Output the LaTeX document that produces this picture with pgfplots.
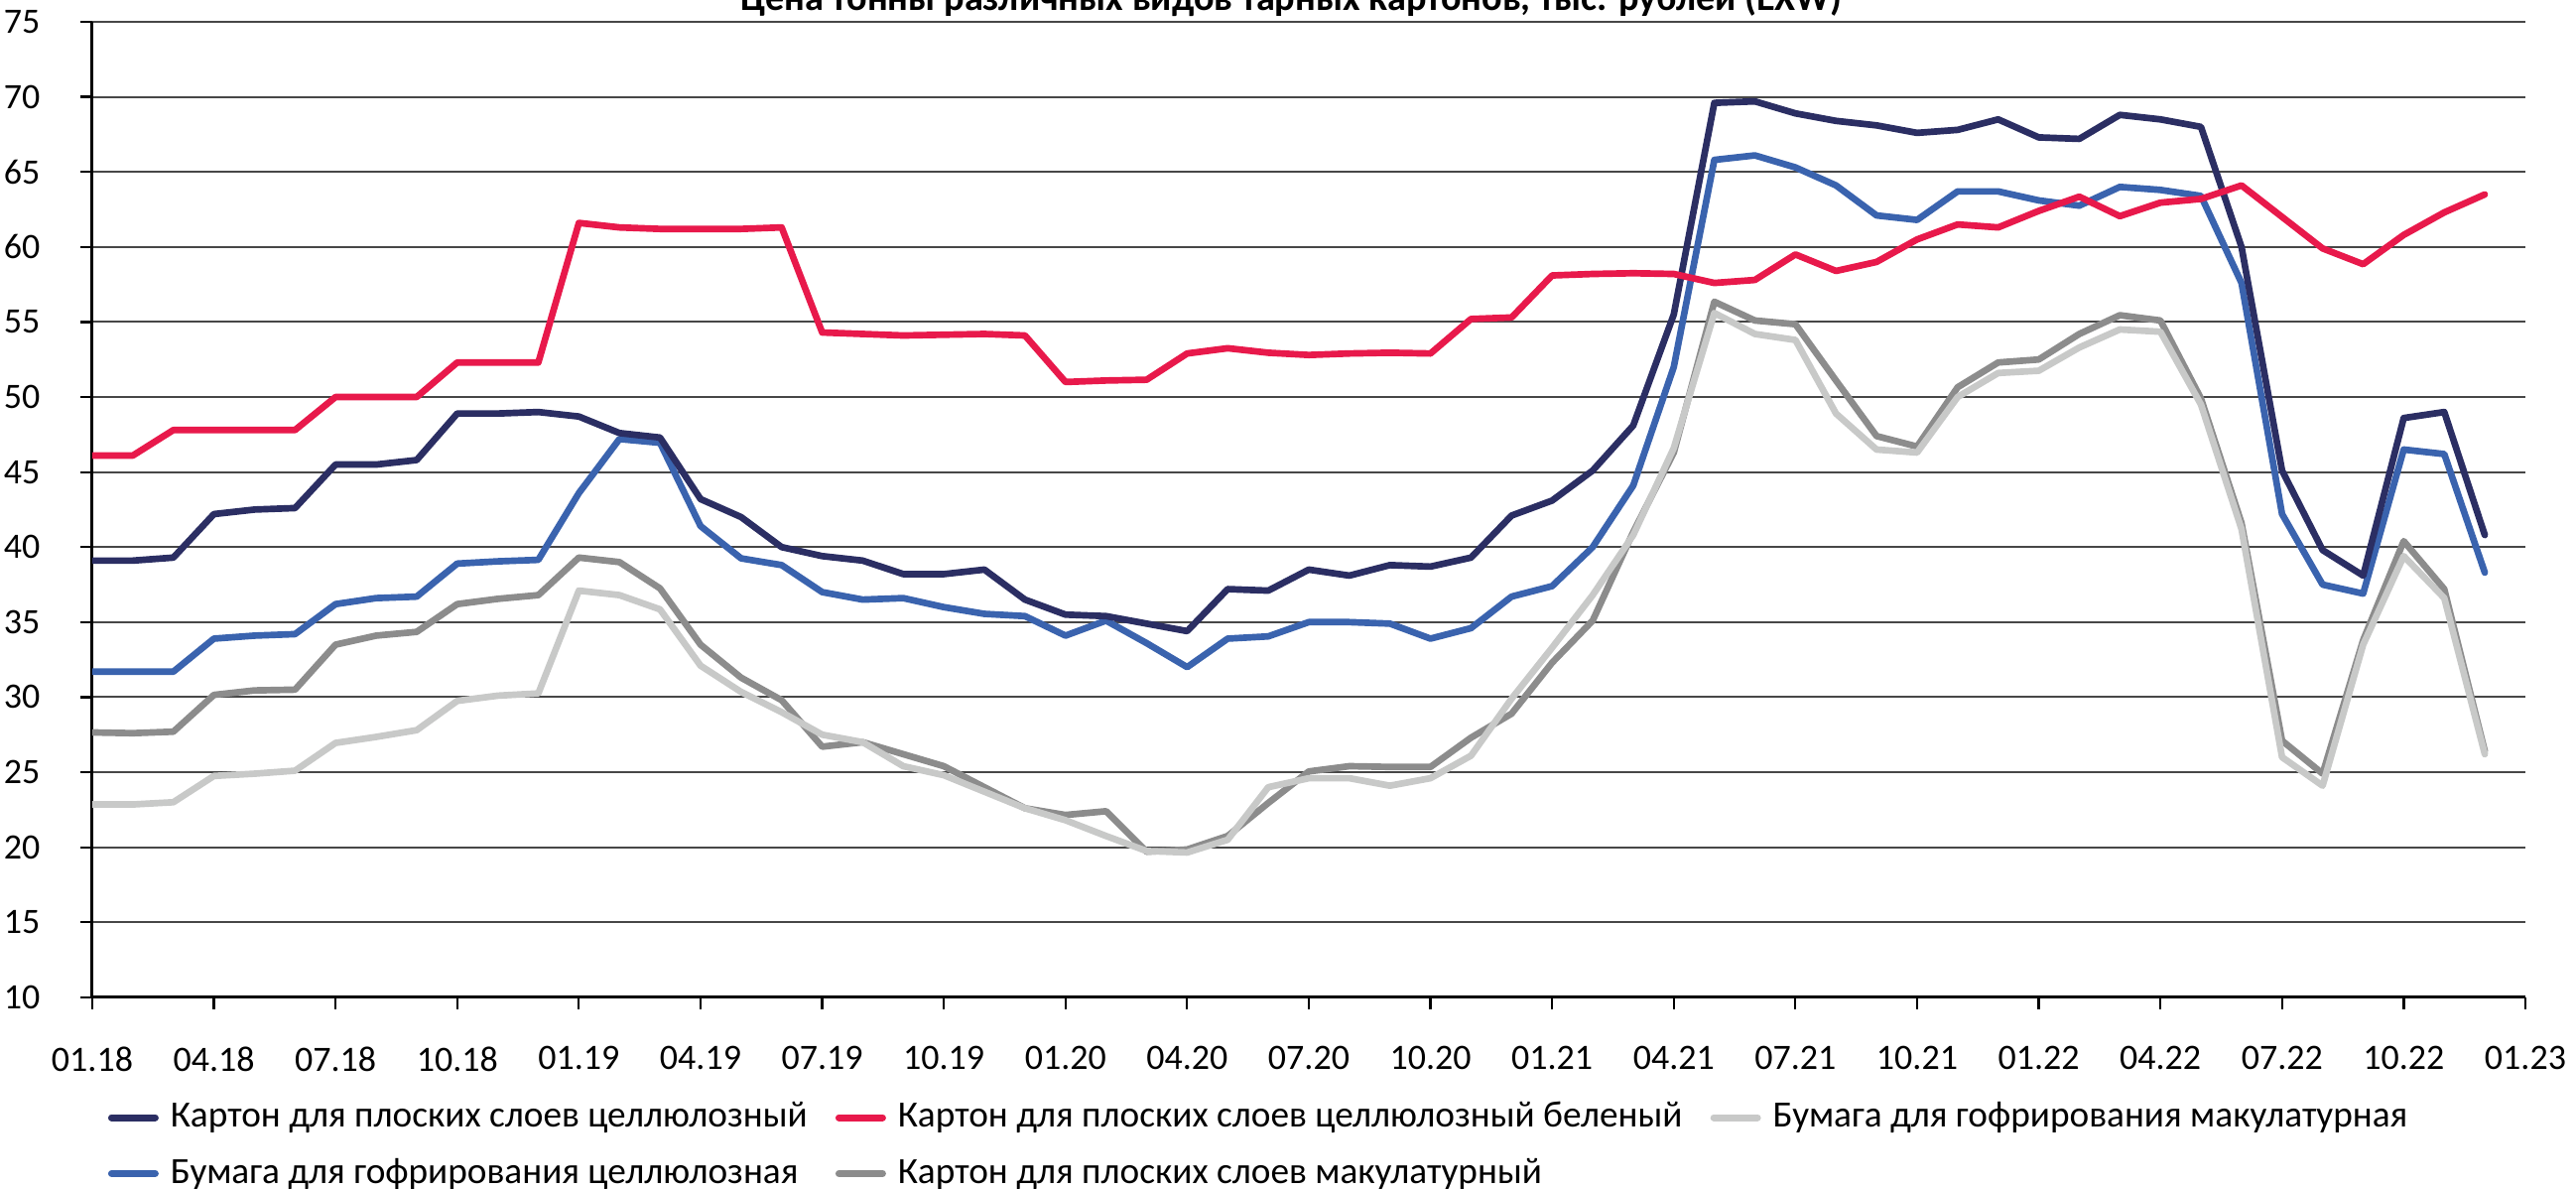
\documentclass[border=0pt]{standalone}
\usepackage{pgfplots}
\usepackage{pgfplotstable}
\pgfplotsset{compat=1.18}
\usepackage{fontspec}
\setmainfont{Carlito}
\definecolor{cNavy}{HTML}{2B2E63}
\definecolor{cRed}{HTML}{E8194B}
\definecolor{cLight}{HTML}{C8C9C8}
\definecolor{cBlue}{HTML}{3A63AE}
\definecolor{cMid}{HTML}{8C8C8C}
\pgfplotstableread{
x navy red light blue mid
0 39.1 46.1 22.85 31.7 27.65
1 39.1 46.1 22.85 31.7 27.6
2 39.3 47.8 23.0 31.7 27.7
3 42.2 47.8 24.75 33.9 30.15
4 42.5 47.8 24.9 34.1 30.45
5 42.6 47.8 25.1 34.2 30.5
6 45.5 50.0 26.95 36.2 33.5
7 45.5 50.0 27.35 36.6 34.1
8 45.8 50.0 27.8 36.7 34.35
9 48.9 52.3 29.75 38.9 36.2
10 48.9 52.3 30.1 39.05 36.55
11 49.0 52.3 30.25 39.15 36.8
12 48.7 61.6 37.1 43.6 39.3
13 47.6 61.3 36.8 47.2 39.0
14 47.3 61.2 35.85 46.95 37.25
15 43.2 61.2 32.1 41.4 33.5
16 42.0 61.2 30.35 39.25 31.3
17 40.0 61.3 29.0 38.8 29.8
18 39.4 54.3 27.5 37.0 26.7
19 39.1 54.2 27.0 36.5 27.0
20 38.2 54.1 25.4 36.6 26.2
21 38.2 54.15 24.8 36.0 25.4
22 38.5 54.2 23.7 35.55 24.0
23 36.5 54.1 22.6 35.4 22.6
24 35.5 51.0 21.8 34.1 22.15
25 35.4 51.1 20.75 35.1 22.4
26 34.9 51.15 19.75 33.6 19.7
27 34.4 52.9 19.65 32.0 19.85
28 37.2 53.25 20.5 33.9 20.75
29 37.1 52.95 24.0 34.05 22.95
30 38.5 52.8 24.6 35.0 25.05
31 38.1 52.9 24.6 35.0 25.4
32 38.8 52.95 24.1 34.9 25.35
33 38.7 52.9 24.6 33.9 25.35
34 39.3 55.2 26.1 34.6 27.3
35 42.1 55.3 29.9 36.7 28.9
36 43.1 58.1 33.3 37.4 32.3
37 45.1 58.2 36.8 40.0 35.1
38 48.1 58.25 40.8 44.1 41.0
39 55.5 58.2 46.6 52.0 46.3
40 69.6 57.6 55.6 65.8 56.35
41 69.7 57.8 54.2 66.1 55.1
42 68.9 59.5 53.8 65.3 54.85
43 68.4 58.4 48.9 64.1 51.1
44 68.1 59.0 46.5 62.1 47.4
45 67.6 60.5 46.3 61.8 46.7
46 67.8 61.5 50.0 63.7 50.65
47 68.5 61.3 51.6 63.7 52.3
48 67.3 62.4 51.75 63.1 52.5
49 67.2 63.35 53.3 62.75 54.2
50 68.8 62.05 54.5 64.0 55.45
51 68.5 62.95 54.35 63.8 55.1
52 68.0 63.2 49.5 63.4 49.9
53 60.0 64.1 41.2 57.6 41.6
54 45.1 62.0 26.0 42.2 27.1
55 39.8 59.9 24.1 37.5 24.9
56 38.1 58.85 33.5 36.9 33.8
57 48.6 60.8 39.4 46.5 40.4
58 49.0 62.3 36.6 46.2 37.2
59 40.8 63.5 26.2 38.3 26.4
}\datatable
\begin{document}
\begin{tikzpicture}
\begin{axis}[
  name=ax,
  at={(0,0)}, anchor=south west,
  width=661.1pt, height=265pt, scale only axis,
  xmin=0, xmax=60, ymin=10, ymax=75,
  xtick={0,3,...,60},
  xticklabels={01.18,04.18,07.18,10.18,01.19,04.19,07.19,10.19,01.20,04.20,07.20,10.20,01.21,04.21,07.21,10.21,01.22,04.22,07.22,10.22,01.23},
  ytick={10,15,...,75},
  axis x line*=bottom, axis y line*=left,
  axis line style={black, line width=0.8pt, -},
  tick align=outside, major tick length=3.2pt,
  tick style={black, line width=0.6pt},
  ymajorgrids, major grid style={black!72, line width=0.55pt},
  ticklabel style={font=\fontsize{9.7}{11}\selectfont},
  /pgf/number format/assume math mode=true,
  yticklabel style={inner sep=0pt, anchor=east, xshift=-10.8pt},
  xticklabel style={inner sep=0pt, anchor=north, yshift=-10pt},
  every axis plot/.append style={line width=1.8pt, line join=round, line cap=round},
  legend columns=3,
  legend cell align=left,
  legend image code/.code={\draw[#1, line width=1.9pt, line cap=round] (0.95pt,0pt) -- (12.8pt,0pt);},
  legend style={at={(axis description cs:0,0)}, anchor=north west, xshift=4.3pt, yshift=-28.5pt,
    draw=none, fill=none, inner sep=0pt, outer sep=0pt,
    font=\fontsize{10.05}{11}\selectfont, row sep=6.9pt,
    nodes={inner sep=0pt},
    /tikz/every odd column/.append style={column sep=3.2pt},
    /tikz/every even column/.append style={column sep=7.6pt}},
]
\addlegendimage{color=cNavy}
\addlegendentry{Картон для плоских слоев целлюлозный}
\addlegendimage{color=cRed}
\addlegendentry{Картон для плоских слоев целлюлозный беленый}
\addlegendimage{color=cLight}
\addlegendentry{Бумага для гофрирования макулатурная}
\addlegendimage{color=cBlue}
\addlegendentry{Бумага для гофрирования целлюлозная}
\addlegendimage{color=cMid}
\addlegendentry{Картон для плоских слоев макулатурный}
\addplot[color=cBlue, forget plot] table[x=x, y=blue] {\datatable};
\addplot[color=cMid, forget plot] table[x=x, y=mid] {\datatable};
\addplot[color=cNavy, forget plot] table[x=x, y=navy] {\datatable};
\addplot[color=cRed, forget plot] table[x=x, y=red] {\datatable};
\addplot[color=cLight, forget plot] table[x=x, y=light] {\datatable};
\end{axis}
\node[anchor=base, font=\bfseries\fontsize{10.3}{12}\selectfont, inner sep=0pt] at (325.8pt,268.2pt) {Цена тонны различных видов тарных картонов, тыс. рублей (EXW)};
\pgfresetboundingbox
\useasboundingbox (-25.07pt,-52.04pt) rectangle (674.85pt,270.93pt);
\end{tikzpicture}
\end{document}
